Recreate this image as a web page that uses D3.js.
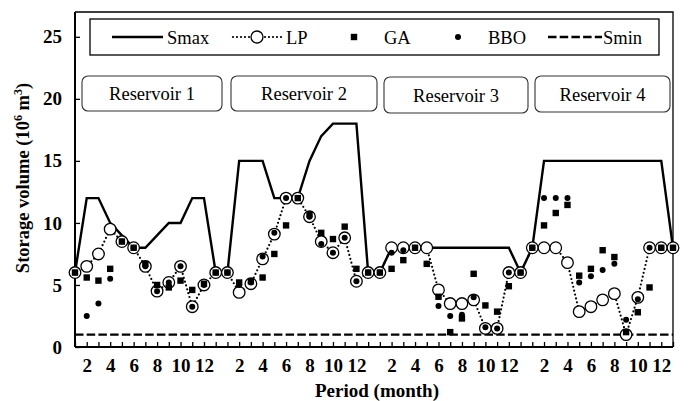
<!DOCTYPE html>
<html>
<head>
<meta charset="utf-8">
<script src="https://cdn.jsdelivr.net/npm/d3@7"></script>
<style>
  html, body { margin: 0; padding: 0; background: #fff; }
  svg { display: block; }
  svg text { font-family: 'Liberation Serif', 'Times New Roman', Times, 'DejaVu Serif', serif; fill: #000; }
</style>
</head>
<body>
<svg id="chart" width="691" height="401"></svg>
<script>
// Reservoir names and month labels (13 states per reservoir: months 1..13)
const reservoirs = ["Reservoir 1", "Reservoir 2", "Reservoir 3", "Reservoir 4"];
const monthsPerReservoir = 13;
const monthTickLabels = [2, 4, 6, 8, 10, 12];
const yTicks = [0, 5, 10, 15, 20, 25];

// Maximum storage (10^6 m3)
const smaxR1 = [6, 12, 12, 10, 9, 8, 8, 9, 10, 10, 12, 12, 6];
const smaxR2 = [6, 15, 15, 15, 12, 12, 12, 15, 17, 18, 18, 18, 6];
const smaxR3 = [6, 8, 8, 8, 8, 8, 8, 8, 8, 8, 8, 8, 6];
const smaxR4 = [8, 15, 15, 15, 15, 15, 15, 15, 15, 15, 15, 15, 8];

// Linear programming storage
const lpR1 = [6, 6.5, 7.5, 9.5, 8.5, 8, 6.5, 4.5, 5.2, 6.5, 3.25, 5, 6];
const lpR2 = [6, 4.4, 5.1, 7.1, 9.1, 12, 12, 10.5, 8.5, 7.6, 8.8, 5.3, 6];
const lpR3 = [6, 8, 8, 8, 8, 4.6, 3.5, 3.5, 3.8, 1.5, 1.5, 6, 6];
const lpR4 = [8, 8, 8, 6.8, 2.85, 3.25, 3.8, 4.3, 1.0, 4.0, 8, 8, 8];

// Genetic algorithm storage
const gaR1 = [6, 5.6, 5.35, 6.3, 8.5, 8, 6.7, 5.0, 4.8, 5.35, 4.6, 5.1, 6];
const gaR2 = [6, 5.2, 5.3, 5.6, 7.5, 9.8, 12, 10.7, 9.2, 8.7, 9.7, 6.3, 6];
const gaR3 = [6, 6.3, 7.0, 8, 6.7, 4.05, 1.2, 2.3, 5.9, 3.35, 2.85, 4.9, 6];
const gaR4 = [8, 9.8, 10.8, 11.45, 5.75, 6.3, 7.8, 7.25, 1.2, 2.8, 4.8, 8, 8];

// Biogeography-based optimisation storage
const bboR1 = [6, 2.5, 3.5, 5.5, 8.5, 8, 6.5, 4.5, 5.2, 6.5, 3.25, 5, 6];
const bboR2 = [6, 5.0, 5.2, 7.3, 9.2, 12, 12, 10.5, 8.3, 7.6, 8.8, 5.3, 6];
const bboR3 = [6, 7.6, 7.8, 8, 6.7, 3.3, 2.5, 2.6, 4.0, 1.6, 1.5, 6, 6];
const bboR4 = [8, 12, 12, 12, 5.2, 5.7, 6.2, 6.7, 2.2, 3.85, 8, 8, 8];

// Minimum storage
const sminValue = 1;

const smax = [...smaxR1, ...smaxR2, ...smaxR3, ...smaxR4];
const lp = [...lpR1, ...lpR2, ...lpR3, ...lpR4];
const ga = [...gaR1, ...gaR2, ...gaR3, ...gaR4];
const bbo = [...bboR1, ...bboR2, ...bboR3, ...bboR4];

const FONT = "'Liberation Serif', 'Times New Roman', Times, 'DejaVu Serif', serif";
const n = reservoirs.length * monthsPerReservoir;
const svg = d3.select("#chart").attr("font-family", FONT);

const plot = { left: 75, right: 673, top: 12, bottom: 347 };

const x = d3.scalePoint().domain(d3.range(n)).range([plot.left, plot.right]);
const y = d3.scaleLinear().domain([0, 27]).range([plot.bottom, plot.top]);

// Frame: thin top/right borders
svg.append("path")
  .attr("d", `M${plot.left},${plot.top}H${plot.right}V${plot.bottom}`)
  .attr("fill", "none").attr("stroke", "#000").attr("stroke-width", 1.3);

// Axes with inward ticks
const yAxis = d3.axisLeft(y).tickValues(yTicks).tickSizeInner(-5).tickSizeOuter(0).tickPadding(13);
const gy = svg.append("g").attr("transform", `translate(${plot.left},0)`).call(yAxis);

const xAxis = d3.axisBottom(x)
  .tickValues(d3.range(n))
  .tickSizeInner(-5).tickSizeOuter(0).tickPadding(11.5)
  .tickFormat(i => {
    const m = (i % monthsPerReservoir) + 1;
    return monthTickLabels.includes(m) ? String(m) : "";
  });
const gx = svg.append("g").attr("transform", `translate(0,${plot.bottom})`).call(xAxis);

[gx, gy].forEach(g => {
  g.attr("font-family", FONT).attr("font-size", 19).attr("font-weight", "bold");
  g.select(".domain").attr("stroke", "#000").attr("stroke-width", 2);
  g.selectAll(".tick line").attr("stroke", "#000").attr("stroke-width", 1.3);
  g.selectAll(".tick text").attr("fill", "#000");
});
gx.select(".domain").attr("d", `M${plot.left},0H${plot.right}`);
gy.select(".domain").attr("d", `M0,${plot.bottom}V${plot.top}`);

// Axis titles
svg.append("text")
  .attr("x", 377).attr("y", 397)
  .attr("text-anchor", "middle")
  .attr("font-size", 19).attr("font-weight", "bold")
  .text("Period (month)");

const yt = svg.append("text")
  .attr("transform", "translate(29,178) rotate(-90)")
  .attr("text-anchor", "middle")
  .attr("font-size", 18.5).attr("font-weight", "bold");
yt.append("tspan").text("Storage volume (10");
yt.append("tspan").attr("font-size", 12).attr("dy", -7).text("6");
yt.append("tspan").attr("dy", 7).text(" m");
yt.append("tspan").attr("font-size", 12).attr("dy", -7).text("3");
yt.append("tspan").attr("dy", 7).text(")");

// Smin dashed line
svg.append("line")
  .attr("x1", plot.left).attr("x2", plot.right)
  .attr("y1", y(sminValue)).attr("y2", y(sminValue))
  .attr("stroke", "#000").attr("stroke-width", 2.4)
  .attr("stroke-dasharray", "8.5,3.2");

// Smax solid line
const lineGen = d3.line().x((d, i) => x(i)).y(d => y(d));
svg.append("path").datum(smax)
  .attr("d", lineGen)
  .attr("fill", "none").attr("stroke", "#000").attr("stroke-width", 2.4)
  .attr("stroke-linejoin", "miter");

// LP dotted line and open circles
svg.append("path").datum(lp)
  .attr("d", lineGen)
  .attr("fill", "none").attr("stroke", "#000").attr("stroke-width", 2.2)
  .attr("stroke-dasharray", "0,4").attr("stroke-linecap", "round");

svg.append("g").selectAll("circle").data(lp).join("circle")
  .attr("cx", (d, i) => x(i)).attr("cy", d => y(d)).attr("r", 5.8)
  .attr("fill", "#fff").attr("stroke", "#000").attr("stroke-width", 1.3);

// GA squares
const sq = 6.4;
svg.append("g").selectAll("rect").data(ga).join("rect")
  .attr("x", (d, i) => x(i) - sq / 2).attr("y", d => y(d) - sq / 2)
  .attr("width", sq).attr("height", sq).attr("fill", "#000");

// BBO dots
svg.append("g").selectAll("circle").data(bbo).join("circle")
  .attr("cx", (d, i) => x(i)).attr("cy", d => y(d)).attr("r", 3)
  .attr("fill", "#000");

// Reservoir label boxes
const boxes = [
  { x0: 82, x1: 222, y0: 76, y1: 111 },
  { x0: 231, x1: 377, y0: 76, y1: 111 },
  { x0: 384, x1: 528, y0: 77, y1: 113 },
  { x0: 535, x1: 670, y0: 76, y1: 112 }
];
const rg = svg.append("g");
boxes.forEach((b, k) => {
  rg.append("rect")
    .attr("x", b.x0).attr("y", b.y0)
    .attr("width", b.x1 - b.x0).attr("height", b.y1 - b.y0)
    .attr("rx", 6).attr("ry", 6)
    .attr("fill", "#fff").attr("stroke", "#333").attr("stroke-width", 1.1);
  rg.append("text")
    .attr("x", (b.x0 + b.x1) / 2).attr("y", (b.y0 + b.y1) / 2 + 6.5)
    .attr("text-anchor", "middle").attr("font-size", 18.5)
    .text(reservoirs[k]);
});

// Legend
const lg = svg.append("g");
lg.append("rect").attr("x", 90).attr("y", 19).attr("width", 569).attr("height", 36)
  .attr("fill", "#fff").attr("stroke", "#000").attr("stroke-width", 1.3);
const ly = 37;
const lbase = 43.5;
lg.append("line").attr("x1", 112).attr("x2", 163).attr("y1", ly).attr("y2", ly)
  .attr("stroke", "#000").attr("stroke-width", 2.4);
lg.append("text").attr("x", 167).attr("y", lbase).attr("font-size", 18.5).text("Smax");

lg.append("line").attr("x1", 233).attr("x2", 282).attr("y1", ly).attr("y2", ly)
  .attr("stroke", "#000").attr("stroke-width", 2.2)
  .attr("stroke-dasharray", "0,4").attr("stroke-linecap", "round");
lg.append("circle").attr("cx", 257).attr("cy", ly).attr("r", 6)
  .attr("fill", "#fff").attr("stroke", "#000").attr("stroke-width", 1.3);
lg.append("text").attr("x", 286).attr("y", lbase).attr("font-size", 18.5).text("LP");

lg.append("rect").attr("x", 354 - sq / 2).attr("y", ly - sq / 2).attr("width", sq).attr("height", sq)
  .attr("fill", "#000");
lg.append("text").attr("x", 384).attr("y", lbase).attr("font-size", 18.5).text("GA");

lg.append("circle").attr("cx", 458).attr("cy", ly).attr("r", 3).attr("fill", "#000");
lg.append("text").attr("x", 488).attr("y", lbase).attr("font-size", 18.5).text("BBO");

lg.append("line").attr("x1", 548).attr("x2", 602).attr("y1", ly).attr("y2", ly)
  .attr("stroke", "#000").attr("stroke-width", 2.4).attr("stroke-dasharray", "8.5,3.2");
lg.append("text").attr("x", 603).attr("y", lbase).attr("font-size", 18.5).text("Smin");
</script>
</body>
</html>
